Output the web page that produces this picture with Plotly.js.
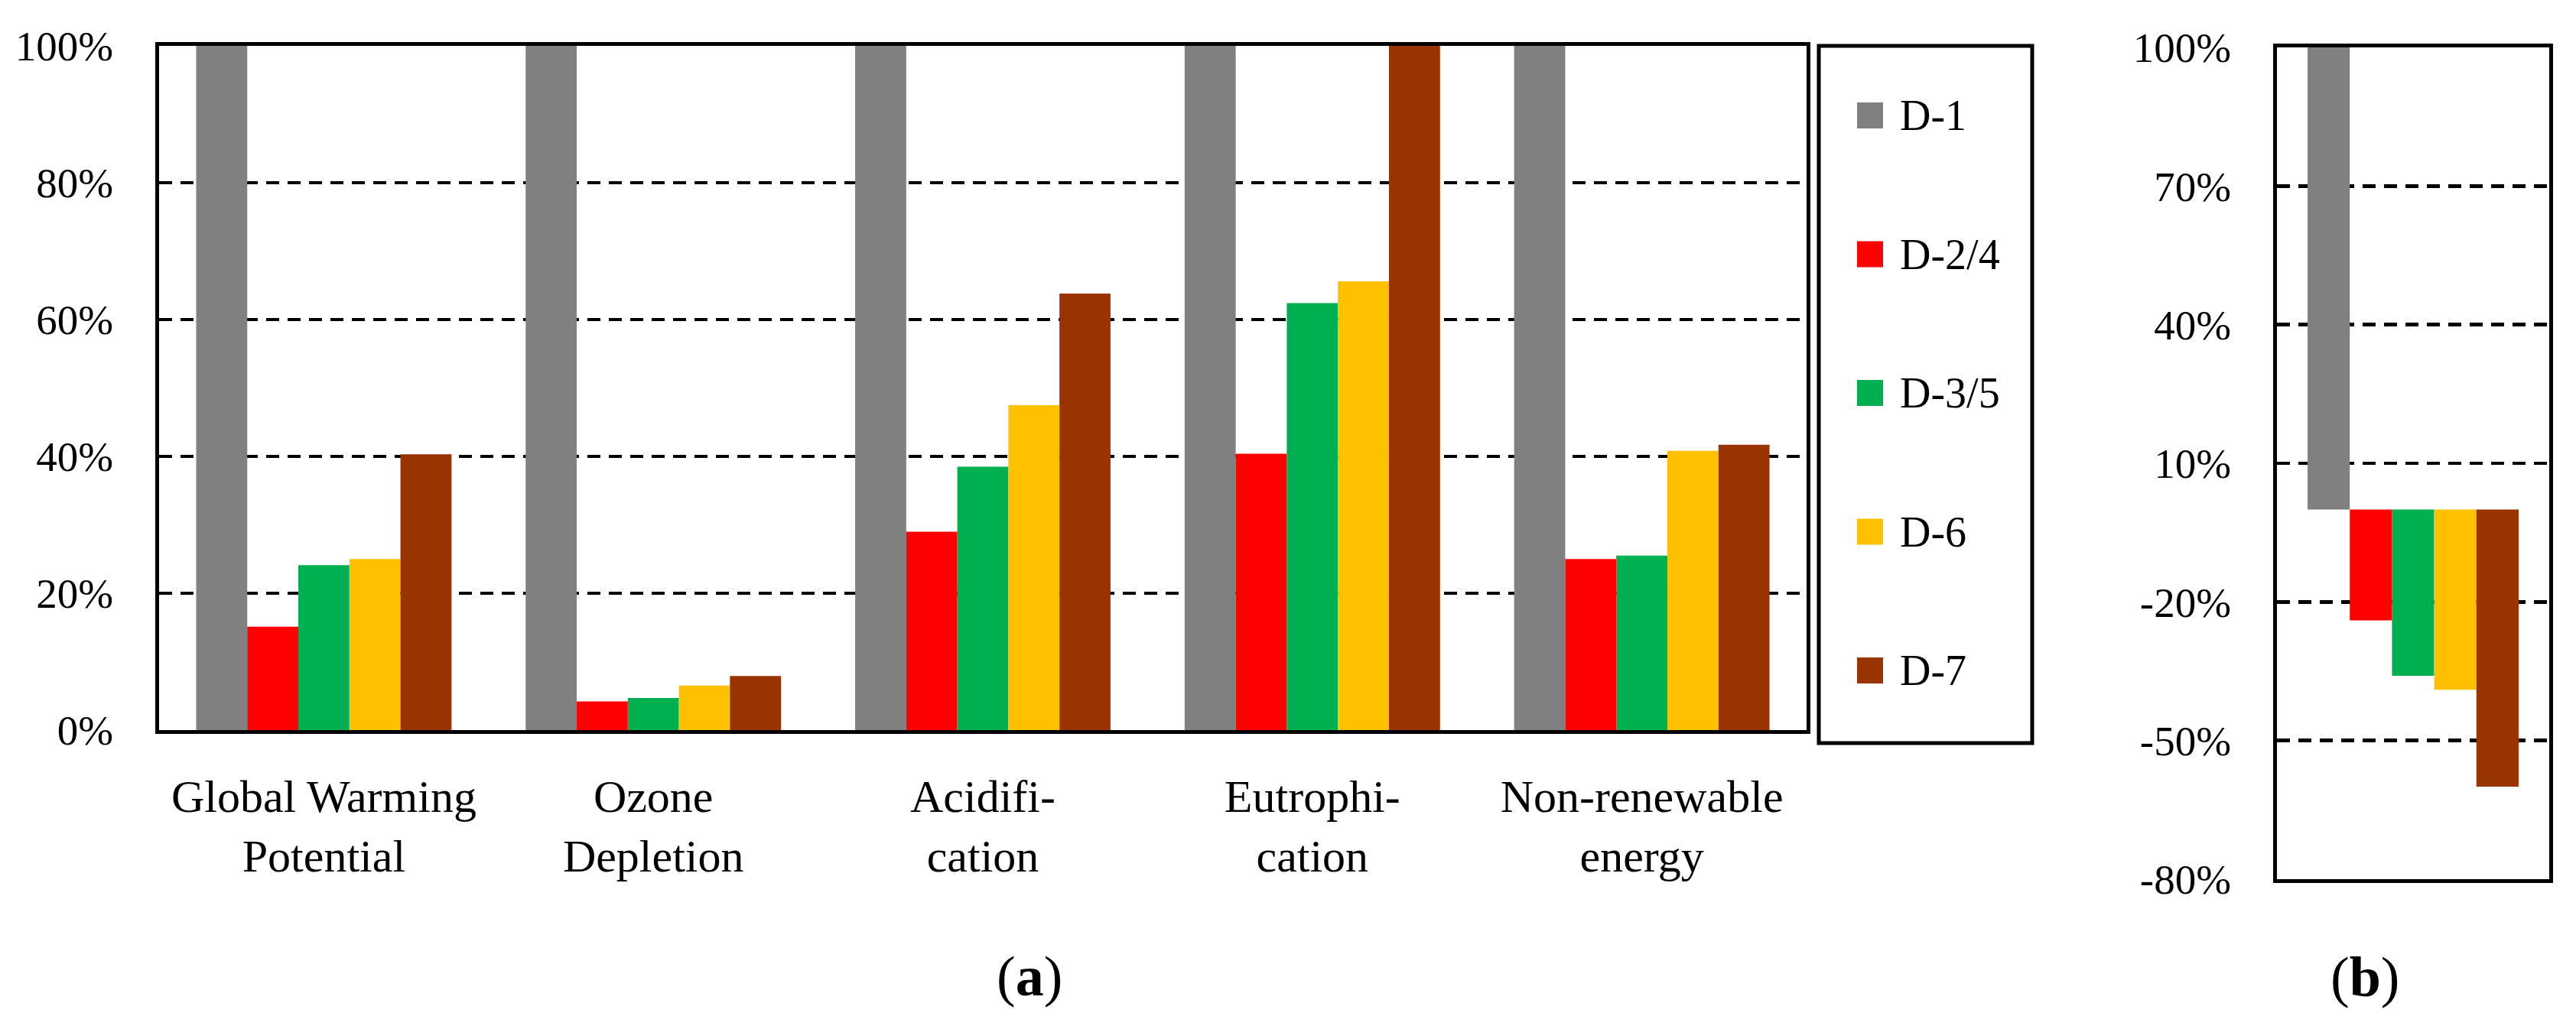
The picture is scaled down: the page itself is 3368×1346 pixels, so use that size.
<!DOCTYPE html>
<html>
<head>
<meta charset="utf-8">
<script src="https://cdn.plot.ly/plotly-3.0.1.min.js"></script>
<style>
  html, body { margin: 0; padding: 0; background: #fff; }
  #chart { width: 3368px; height: 1346px; }
</style>
</head>
<body>
<div id="chart"></div>
<script>
// ─── Data ───────────────────────────────────────────────────
var categories = [
  'Global Warming<br>Potential',
  'Ozone<br>Depletion',
  'Acidifi-<br>cation',
  'Eutrophi-<br>cation',
  'Non-renewable<br>energy'
];
var seriesNames = ['D-1', 'D-2/4', 'D-3/5', 'D-6', 'D-7'];
var seriesColors = ['#808080', '#FF0000', '#00B050', '#FFC000', '#993300'];

// panel (a): impact relative to the largest value per category
var d1 = [1.000, 1.000, 1.000, 1.000, 1.000];
var d24 = [0.151, 0.042, 0.290, 0.404, 0.250];
var d35 = [0.241, 0.047, 0.385, 0.624, 0.255];
var d6 = [0.250, 0.065, 0.475, 0.656, 0.408];
var d7 = [0.403, 0.079, 0.638, 1.000, 0.417];
var aTicks = [0, 0.2, 0.4, 0.6, 0.8, 1.0];

// panel (b): one value per design
var bCategory = ['total'];
var bValues = [1.00, -0.24, -0.36, -0.39, -0.60];
var bTicks = [-0.8, -0.5, -0.2, 0.1, 0.4, 0.7, 1.0];

// ─── Layout helpers ─────────────────────────────────────────
var W = 3368, H = 1346;
var FONT = '"Liberation Serif", "Times New Roman", serif';
function px(x) { return x / W; }
function py(y) { return 1 - y / H; }
// plain hyphen for negatives, like the original figure
function pct(v) { return Math.round(v * 100) + '%'; }

var frame = {
  showline: true, mirror: true, linecolor: '#000', linewidth: 5,
  ticks: '', zeroline: false, fixedrange: true
};
var yGrid = {
  showgrid: true, gridcolor: '#000', gridwidth: 4.5, griddash: '17px,11px',
  tickmode: 'array', tickfont: { family: FONT, size: 55, color: '#000' },
  ticklabelstandoff: 44
};

// ─── Traces ─────────────────────────────────────────────────
var aSeries = [d1, d24, d35, d6, d7];
var traces = [];

aSeries.forEach(function (vals, i) {
  traces.push({
    type: 'bar',
    name: seriesNames[i],
    x: categories,
    y: vals,
    xaxis: 'x', yaxis: 'y',
    marker: { color: seriesColors[i], line: { width: 0 } },
    showlegend: false,
    hoverinfo: 'skip'
  });
});

bValues.forEach(function (v, i) {
  traces.push({
    type: 'bar',
    name: seriesNames[i],
    x: bCategory,
    y: [v],
    xaxis: 'x2', yaxis: 'y2',
    marker: { color: seriesColors[i], line: { width: 0 } },
    showlegend: false,
    hoverinfo: 'skip'
  });
});

// ─── Legend (drawn as a framed box with large swatches) ────
var shapes = [{
  type: 'rect', xref: 'paper', yref: 'paper',
  x0: px(2378), x1: px(2657), y0: py(972), y1: py(60),
  line: { color: '#000', width: 5 }, fillcolor: 'rgba(0,0,0,0)'
}];
var annotations = [];

seriesNames.forEach(function (name, i) {
  var cy = 151 + i * 181.5;
  shapes.push({
    type: 'rect', xref: 'paper', yref: 'paper',
    x0: px(2428), x1: px(2462), y0: py(cy + 17), y1: py(cy - 17),
    line: { width: 0 }, fillcolor: seriesColors[i]
  });
  annotations.push({
    xref: 'paper', yref: 'paper', x: px(2482), y: py(cy),
    xanchor: 'left', yanchor: 'middle', showarrow: false,
    text: name, font: { family: FONT, size: 56, color: '#000' }
  });
});

// panel labels
annotations.push({
  xref: 'paper', yref: 'paper', x: px(1346), y: py(1277),
  xanchor: 'center', yanchor: 'middle', showarrow: false,
  text: '(<b>a</b>)', font: { family: FONT, size: 74, color: '#000' }
});
annotations.push({
  xref: 'paper', yref: 'paper', x: px(3092), y: py(1278),
  xanchor: 'center', yanchor: 'middle', showarrow: false,
  text: '(<b>b</b>)', font: { family: FONT, size: 74, color: '#000' }
});

var layout = {
  width: W, height: H,
  margin: { l: 0, r: 0, t: 0, b: 0 },
  paper_bgcolor: '#fff', plot_bgcolor: '#fff',
  barmode: 'group', bargap: 0.225, bargroupgap: 0,
  showlegend: false,
  font: { family: FONT, color: '#000' },
  xaxis: Object.assign({
    domain: [px(208), px(2362)], anchor: 'y', type: 'category',
    showgrid: false, tickfont: { family: FONT, size: 60, color: '#000' },
    ticklabelstandoff: 30
  }, frame),
  yaxis: Object.assign({
    domain: [py(955), py(60)], anchor: 'x', range: [0, 1],
    tickvals: aTicks, ticktext: aTicks.map(pct)
  }, yGrid, frame),
  xaxis2: Object.assign({
    domain: [px(2977), px(3333)], anchor: 'y2', type: 'category',
    showgrid: false, showticklabels: false
  }, frame),
  yaxis2: Object.assign({
    domain: [py(1150), py(62)], anchor: 'x2', range: [-0.8, 1.0],
    tickvals: bTicks, ticktext: bTicks.map(pct)
  }, yGrid, frame),
  shapes: shapes,
  annotations: annotations
};

Plotly.newPlot('chart', traces, layout, { staticPlot: true, displayModeBar: false });
</script>
</body>
</html>
